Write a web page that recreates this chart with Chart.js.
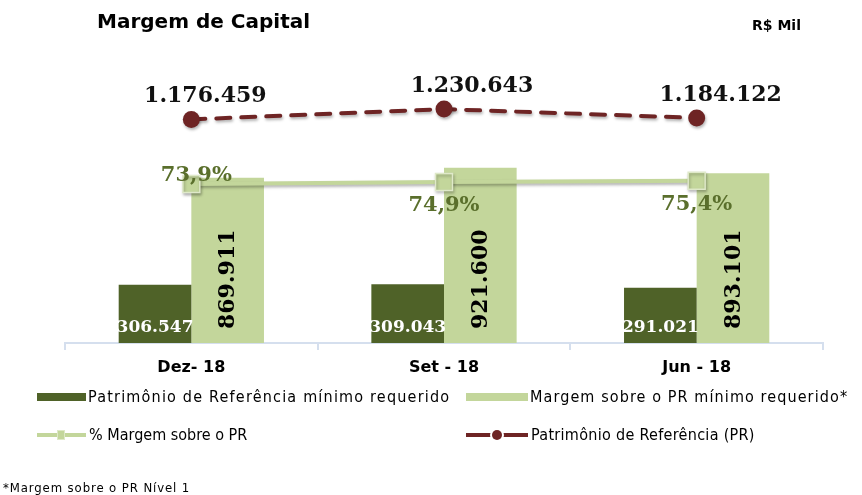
<!DOCTYPE html>
<html>
<head>
<meta charset="utf-8">
<script src="https://cdn.jsdelivr.net/npm/chart.js@4.4.0/dist/chart.umd.min.js"></script>
<style>
body { margin: 0; background: #fff; }
#wrap { position: relative; width: 862px; height: 495px; overflow: hidden; }
#grafico { position: absolute; left: 0; top: 0; }
.txt { position: absolute; white-space: nowrap; color: #000; }
.tit { font: bold 20px "DejaVu Sans", sans-serif; left: 97px; top: 9px; }
.mil { font: bold 14px "DejaVu Sans", sans-serif; left: 752px; top: 17px; }
.leg { font: 16px "DejaVu Sans Condensed", "DejaVu Sans", sans-serif; line-height: 20px; letter-spacing: 1.2px; }
.nota { font: 13px "DejaVu Sans Condensed", "DejaVu Sans", sans-serif; left: 3px; top: 480px; letter-spacing: 0.9px; }
.ico { position: absolute; }
</style>
</head>
<body>
<div id="wrap">
  <canvas id="grafico" width="862" height="495"></canvas>
  <div class="txt tit">Margem de Capital</div>
  <div class="txt mil">R$ Mil</div>

  <!-- legenda -->
  <div class="ico" style="left:37px;top:393px;width:49px;height:8px;background:#4f6228"></div>
  <div class="txt leg" style="left:88px;top:387px">Patrimônio de Referência mínimo requerido</div>
  <div class="ico" style="left:466px;top:393px;width:62px;height:8px;background:#c3d69b"></div>
  <div class="txt leg" style="left:530px;top:387px;letter-spacing:1.1px">Margem sobre o PR mínimo requerido*</div>

  <div class="ico" style="left:37px;top:433px;width:49px;height:4px;background:#c3d69b"></div>
  <div class="ico" style="left:57px;top:430px;width:8px;height:10px;background:#c3d69b;border:1px solid #dde8c6;box-sizing:border-box"></div>
  <div class="txt leg" style="left:89px;top:425px;letter-spacing:0px">% Margem sobre o PR</div>
  <div class="ico" style="left:466px;top:433px;width:62px;height:4px;background:#6e2424"></div>
  <div class="ico" style="left:492px;top:430px;width:10px;height:10px;border-radius:50%;background:#6e2424;box-shadow:0 0 0 2px #fff"></div>
  <div class="txt leg" style="left:531px;top:425px;letter-spacing:0.3px">Patrimônio de Referência (PR)</div>

  <div class="txt nota">*Margem sobre o PR Nível 1</div>
</div>

<script>
// dados (R$ mil)
const periodos = ["Dez- 18", "Set - 18", "Jun - 18"];
const prMinimo = [306547, 309043, 291021];
const margemPR = [869911, 921600, 893101];
const pctMargem = [73.9, 74.9, 75.4];
const patrimonioRef = [1176459, 1230643, 1184122];

// cores
const verdeEscuro = "#4f6228";
const verdeClaro = "#c3d69b";
const vinho = "#6e2424";
const eixoCor = "#d5dfee";

const serif = '"DejaVu Serif", serif';

function fmtMil(v) {
    return String(v).replace(/\B(?=(\d{3})+(?!\d))/g, ".");
}
function fmtPct(v) {
    return v.toFixed(1).replace(".", ",") + "%";
}

// deslocamento dos rótulos do PR (ajuste manual como no original)
const desvioPR = [14, 28, 24];
const pctAcima = [true, false, false];

// sombra nas linhas
const sombra = {
    id: "sombra",
    beforeDatasetDraw(chart, args) {
        if (chart.data.datasets[args.index].type !== "line") return;
        const ctx = chart.ctx;
        ctx.save();
        ctx.shadowColor = "rgba(0,0,0,0.3)";
        ctx.shadowOffsetY = 2;
        ctx.shadowOffsetX = 1;
        ctx.shadowBlur = 3;
    },
    afterDatasetDraw(chart, args) {
        if (chart.data.datasets[args.index].type !== "line") return;
        chart.ctx.restore();
    }
};

// rótulos de dados
const rotulos = {
    id: "rotulos",
    afterDatasetsDraw(chart) {
        const ctx = chart.ctx;

        // barras escuras
        chart.getDatasetMeta(0).data.forEach((el, i) => {
            ctx.save();
            ctx.font = "bold 17px " + serif;
            ctx.fillStyle = "#fff";
            ctx.textAlign = "center";
            ctx.textBaseline = "alphabetic";
            ctx.fillText(fmtMil(prMinimo[i]), el.x, el.base - 11);
            ctx.restore();
        });

        // barras claras (texto vertical)
        chart.getDatasetMeta(1).data.forEach((el, i) => {
            ctx.save();
            ctx.font = "bold 22px " + serif;
            ctx.fillStyle = "#000";
            ctx.translate(el.x + 1, el.base - 14);
            ctx.rotate(-Math.PI / 2);
            ctx.textAlign = "left";
            ctx.textBaseline = "middle";
            ctx.fillText(fmtMil(margemPR[i]), 0, 0);
            ctx.restore();
        });

        // percentuais
        chart.getDatasetMeta(2).data.forEach((el, i) => {
            ctx.save();
            ctx.font = "bold 21px " + serif;
            ctx.fillStyle = "#5a6f2c";
            ctx.textAlign = "center";
            ctx.textBaseline = "alphabetic";
            if (pctAcima[i]) ctx.fillText(fmtPct(pctMargem[i]), el.x + 5, el.y - 3);
            else ctx.fillText(fmtPct(pctMargem[i]), el.x, el.y + 29);
            ctx.restore();
        });

        // patrimônio de referência
        chart.getDatasetMeta(3).data.forEach((el, i) => {
            ctx.save();
            ctx.font = "bold 22px " + serif;
            ctx.fillStyle = "#111";
            ctx.textAlign = "center";
            ctx.textBaseline = "alphabetic";
            ctx.fillText(fmtMil(patrimonioRef[i]), el.x + desvioPR[i], el.y - 17);
            ctx.restore();
        });
    }
};

new Chart(document.getElementById("grafico"), {
    type: "bar",
    data: {
        labels: periodos,
        datasets: [
            {
                label: "Patrimônio de Referência mínimo requerido",
                data: prMinimo,
                backgroundColor: verdeEscuro,
                yAxisID: "y",
                order: 2
            },
            {
                label: "Margem sobre o PR mínimo requerido*",
                data: margemPR,
                backgroundColor: verdeClaro,
                yAxisID: "y",
                order: 2
            },
            {
                type: "line",
                label: "% Margem sobre o PR",
                data: pctMargem,
                yAxisID: "y1",
                borderColor: verdeClaro,
                borderWidth: 4,
                pointStyle: "rect",
                pointRadius: 12,
                pointBackgroundColor: verdeClaro,
                pointBorderColor: "#dfe9c9",
                pointBorderWidth: 1.5,
                order: 1
            },
            {
                type: "line",
                label: "Patrimônio de Referência (PR)",
                data: patrimonioRef,
                yAxisID: "y",
                borderColor: vinho,
                borderWidth: 4,
                borderDash: [14, 11],
                borderCapStyle: "round",
                pointStyle: "circle",
                pointRadius: 8.5,
                pointBackgroundColor: vinho,
                pointBorderWidth: 0,
                order: 0
            }
        ]
    },
    options: {
        responsive: false,
        animation: false,
        layout: { padding: { left: 65, right: 39, top: 60, bottom: 112 } },
        datasets: {
            bar: { categoryPercentage: 0.575, barPercentage: 1 }
        },
        plugins: {
            legend: { display: false },
            tooltip: { enabled: false }
        },
        scales: {
            x: {
                offset: true,
                grid: {
                    display: true,
                    offset: true,
                    drawOnChartArea: false,
                    drawTicks: true,
                    tickLength: 7,
                    color: eixoCor,
                    lineWidth: 2
                },
                border: { display: true, color: eixoCor, width: 2 },
                ticks: {
                    color: "#000",
                    padding: 8,
                    font: { family: '"DejaVu Sans", sans-serif', size: 16, weight: "bold" }
                },
                afterFit(scale) { scale.height = 40; }
            },
            y: { display: false, min: 0, max: 1489000 },
            y1: { display: false, min: 0, max: 131.6 }
        }
    },
    plugins: [sombra, rotulos]
});
</script>
</body>
</html>
